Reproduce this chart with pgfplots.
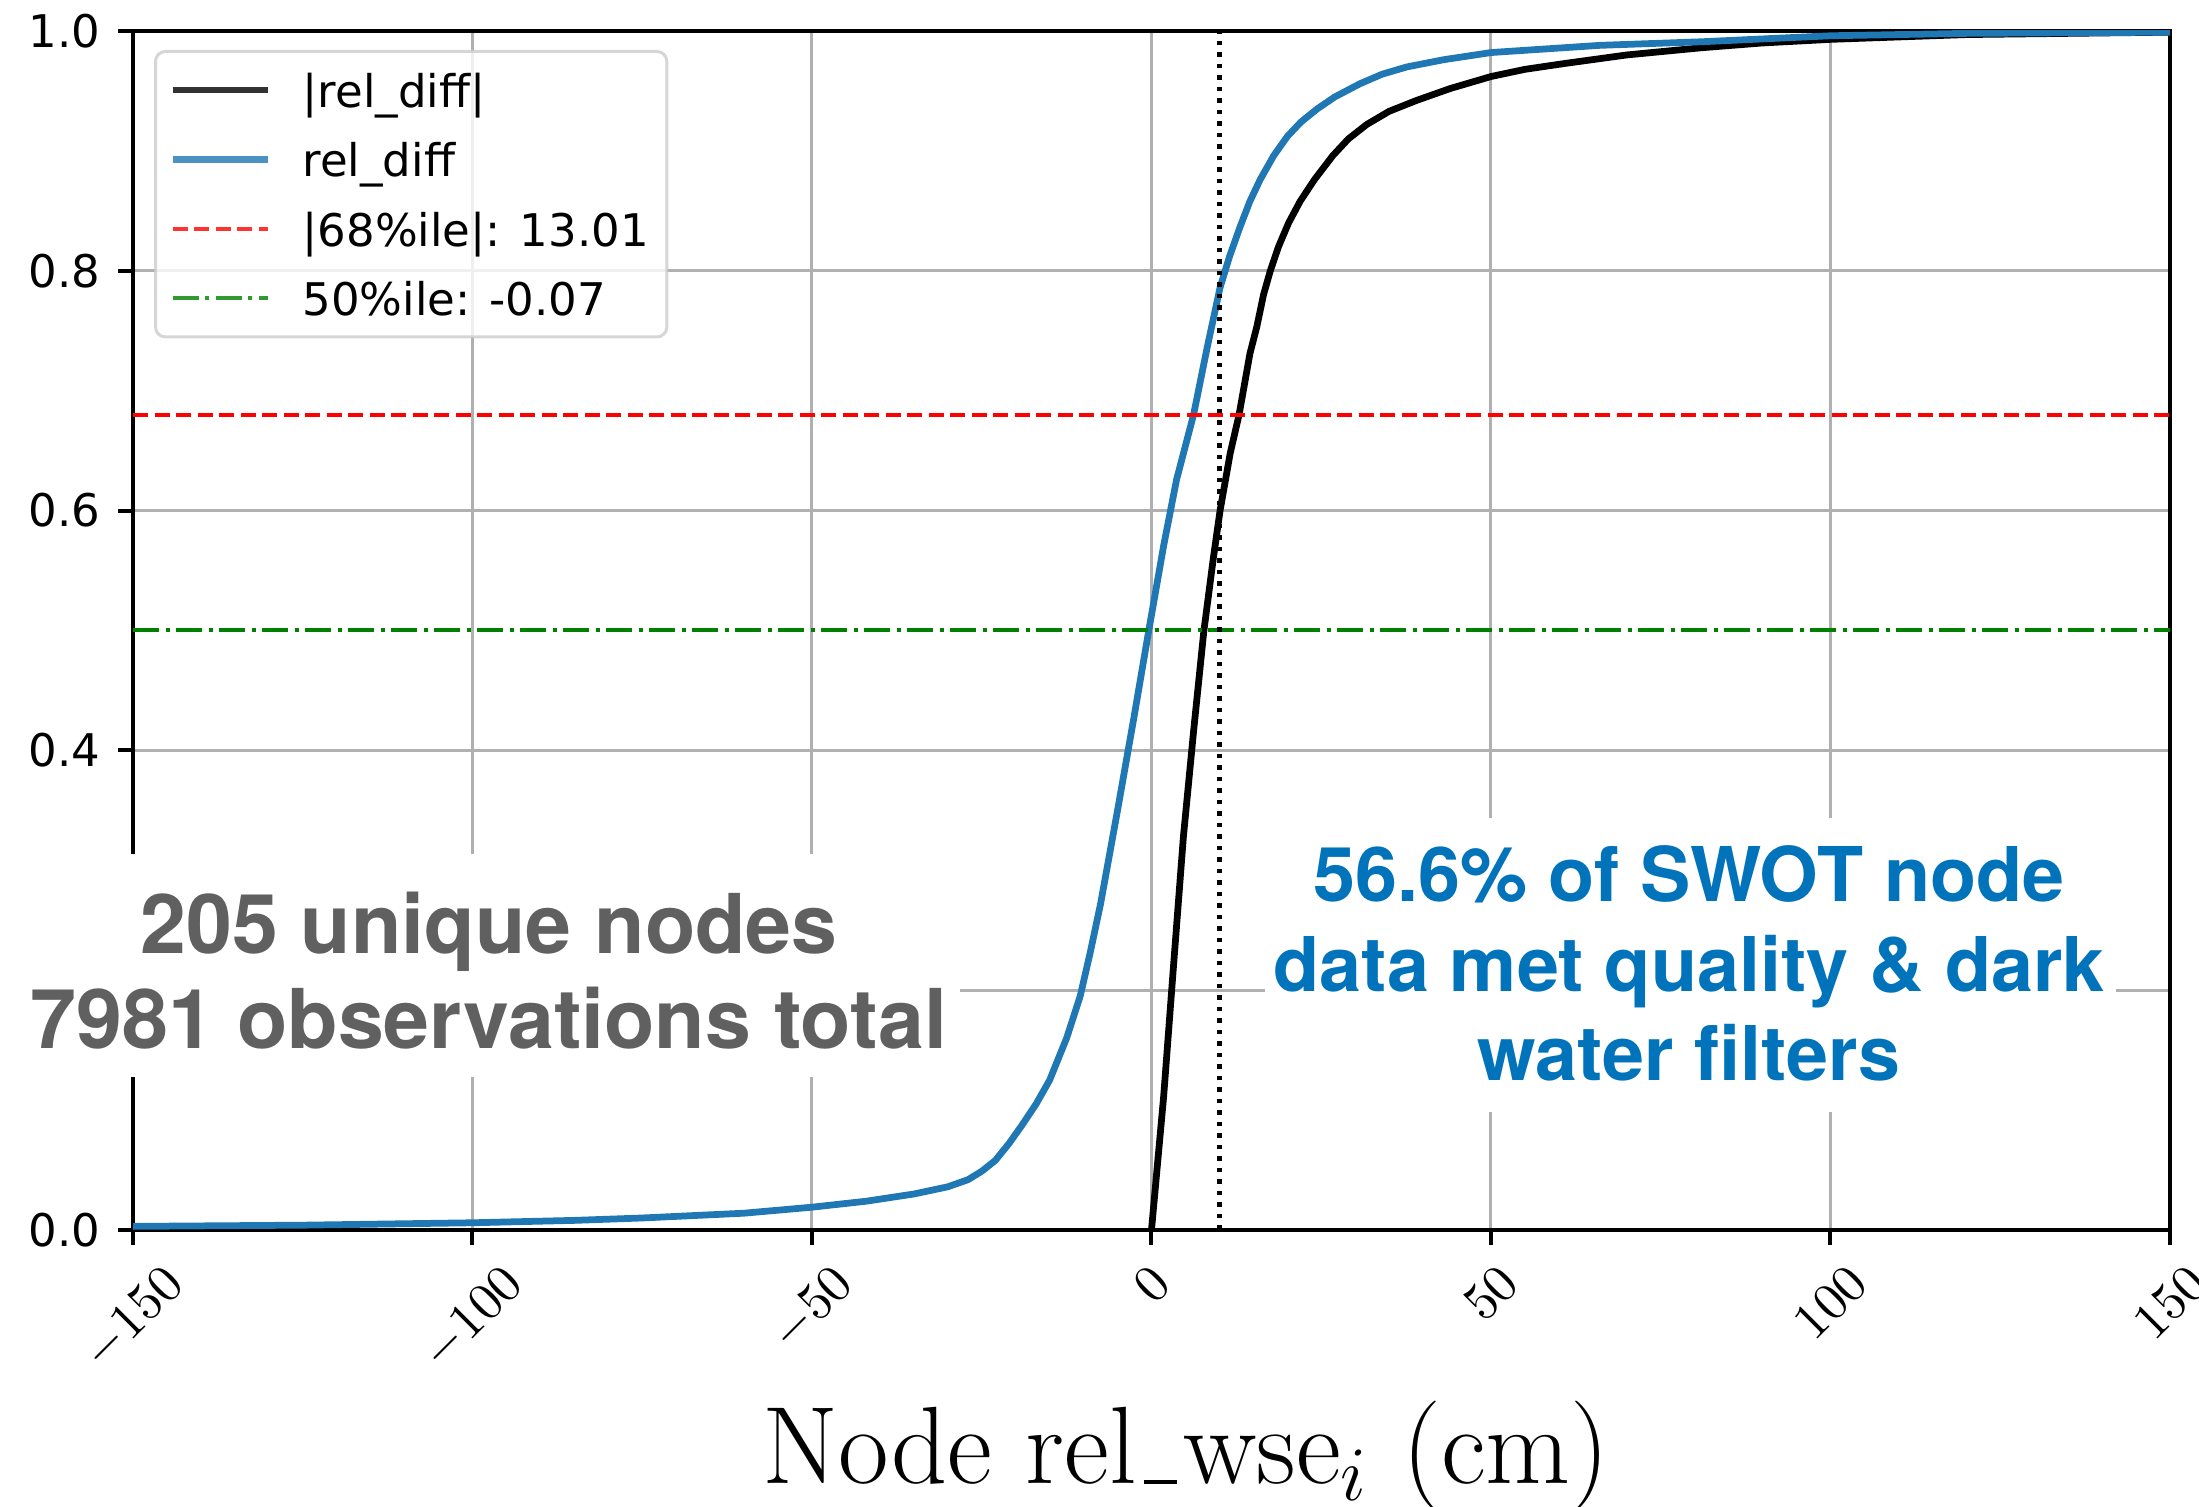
\IfFileExists{fix-cm.sty}{\RequirePackage{fix-cm}}{}
\documentclass[border=0pt]{standalone}
\usepackage{fontspec}
\usepackage{graphicx}
\usepackage{pgfplots}
\pgfplotsset{compat=1.18}
\newfontfamily\dejavu{DejaVu Sans}
\newfontfamily\heros{TeX Gyre Heros}
\definecolor{mplblue}{HTML}{1F77B4}
\definecolor{txtgray}{HTML}{606060}
\definecolor{txtblue}{HTML}{0073BB}
\definecolor{gridgray}{HTML}{B0B0B0}
\definecolor{mplgreen}{HTML}{008000}
\newcommand\lstrut{\rule[-1.8pt]{0pt}{10.2pt}}

\pgfplotstableread{
x y
-150 0.003
-125 0.004
-100 0.006
-85 0.008
-75 0.010
-60 0.014
-50 0.019
-42 0.024
-35 0.030
-30 0.036
-27 0.042
-25 0.049
-23 0.058
-21 0.072
-19 0.088
-17 0.105
-15 0.125
-12.5 0.160
-10.5 0.195
-9 0.232
-7.5 0.272
-5 0.350
-2.6 0.427
-0.4 0.500
1.8 0.571
3.7 0.626
6.2 0.680
8.2 0.736
10.1 0.786
11.5 0.812
13 0.836
14.5 0.858
16 0.876
18 0.896
20 0.912
22 0.924
24.4 0.935
27 0.945
30.7 0.956
34 0.964
37.6 0.970
43 0.976
50 0.982
58 0.985
66 0.988
81 0.991
100 0.996
120 0.998
150 0.999
}\reldiff

\pgfplotstableread{
x y
0 0
1.8 0.112
3.2 0.217
4.7 0.328
6.2 0.416
7.7 0.499
9.1 0.560
10.1 0.600
11.6 0.648
12.9 0.680
14.5 0.731
15.5 0.753
16.5 0.780
17.5 0.800
18.7 0.820
20.2 0.840
21.9 0.858
24 0.876
26.7 0.896
29 0.910
31.7 0.922
35 0.933
39 0.942
44 0.952
50 0.962
55 0.968
61 0.973
70 0.980
81 0.986
90 0.990
100 0.993
110 0.995
120 0.997
135 0.998
150 0.999
}\absreldiff

\begin{document}
\begin{tikzpicture}
\begin{axis}[
  at={(0,0)}, anchor=south west,
  scale only axis,
  width=407.4pt, height=239.8pt,
  xmin=-150, xmax=150, ymin=0, ymax=1,
  xtick={-150,-100,-50,0,50,100,150},
  ytick={0,0.2,0.4,0.6,0.8,1.0},
  grid=major,
  major grid style={gridgray, line width=0.6pt},
  axis line style={line width=0.8pt},
  tick align=outside,
  major tick length=3pt,
  tick style={black, line width=0.8pt},
  xtick pos=left, ytick pos=left,
  xticklabel={\rotatebox{45}{\pgfmathprintnumber{\tick}}},
  xticklabel style={font=\fontsize{10.5}{12}\selectfont, anchor=north},
  yticklabel={\dejavu\pgfmathprintnumber[fixed,fixed zerofill,precision=1,assume math mode=true]{\tick}},
  yticklabel style={font=\fontsize{9}{11}\selectfont},
  xlabel={Node rel\kern.06em\rule{.3em}{.7pt}\kern.06em wse$_i$ (cm)},
  xlabel style={font=\fontsize{22}{26}\selectfont, at={(axis description cs:0.5,0)}, anchor=base, xshift=6.9pt, yshift=-50.8pt},
  legend image code/.code={\draw[mark repeat=2,mark phase=2,#1] plot coordinates {(0pt,0pt) (9.5pt,0pt) (19pt,0pt)};
    \path (-2.75pt,-2.4pt) (21.75pt,0pt);},
  legend cell align=left,
  legend style={at={(0,1)}, anchor=north west, xshift=4.2pt, yshift=-3.8pt,
    font=\dejavu\fontsize{9}{11}\selectfont,
    draw=black!20, line width=0.6pt, rounded corners=2pt,
    fill=white, fill opacity=0.8, draw opacity=0.8, text opacity=1,
    inner xsep=0pt, inner ysep=1pt, row sep=0.5pt,
    nodes={inner xsep=3.6pt, inner ysep=1.75pt}},
]
\addplot[black, line width=1.35pt, line join=round] table {\absreldiff};
\addlegendentry{\lstrut|rel\_diff|}
\addplot[mplblue, line width=1.35pt, line join=round] table {\reldiff};
\addlegendentry{\lstrut rel\_diff}
\addplot[red, line width=0.8pt, dash pattern=on 3pt off 1.3pt] coordinates {(-150,0.68) (150,0.68)};
\addlegendentry{\lstrut|68\%ile|: 13.01}
\addplot[mplgreen, line width=0.8pt, dash pattern=on 5.2pt off 1.3pt on 0.8pt off 1.3pt] coordinates {(-150,0.5) (150,0.5)};
\addlegendentry{\lstrut 50\%ile: -0.07}
\addplot[black, line width=0.9pt, dash pattern=on 0.9pt off 1.4pt, forget plot] coordinates {(10,0) (10,1)};
\end{axis}
% annotation boxes
\fill[white] (-26.6pt,30.6pt) rectangle (165.4pt,75.2pt);
\node[anchor=base, text=txtgray, font=\heros\bfseries\fontsize{16.5}{19}\selectfont, inner sep=0pt] at (71.2pt,55.2pt) {205 unique nodes};
\node[anchor=base, text=txtgray, font=\heros\bfseries\fontsize{16.5}{19}\selectfont, inner sep=0pt] at (71.2pt,36.2pt) {7981 observations total};
\fill[white] (226.4pt,23.6pt) rectangle (396.6pt,82.4pt);
\node[anchor=base, text=txtblue, font=\heros\bfseries\fontsize{15.1}{18}\selectfont, inner sep=0pt] at (311.2pt,65.6pt) {56.6\% of SWOT node};
\node[anchor=base, text=txtblue, font=\heros\bfseries\fontsize{15.1}{18}\selectfont, inner sep=0pt] at (311.2pt,47.7pt) {data met quality \& dark};
\node[anchor=base, text=txtblue, font=\heros\bfseries\fontsize{15.1}{18}\selectfont, inner sep=0pt] at (311.2pt,29.8pt) {water filters};
\pgfresetboundingbox
\useasboundingbox (-26.6pt,-55.4pt) rectangle (413.2pt,246pt);
\end{tikzpicture}
\end{document}
